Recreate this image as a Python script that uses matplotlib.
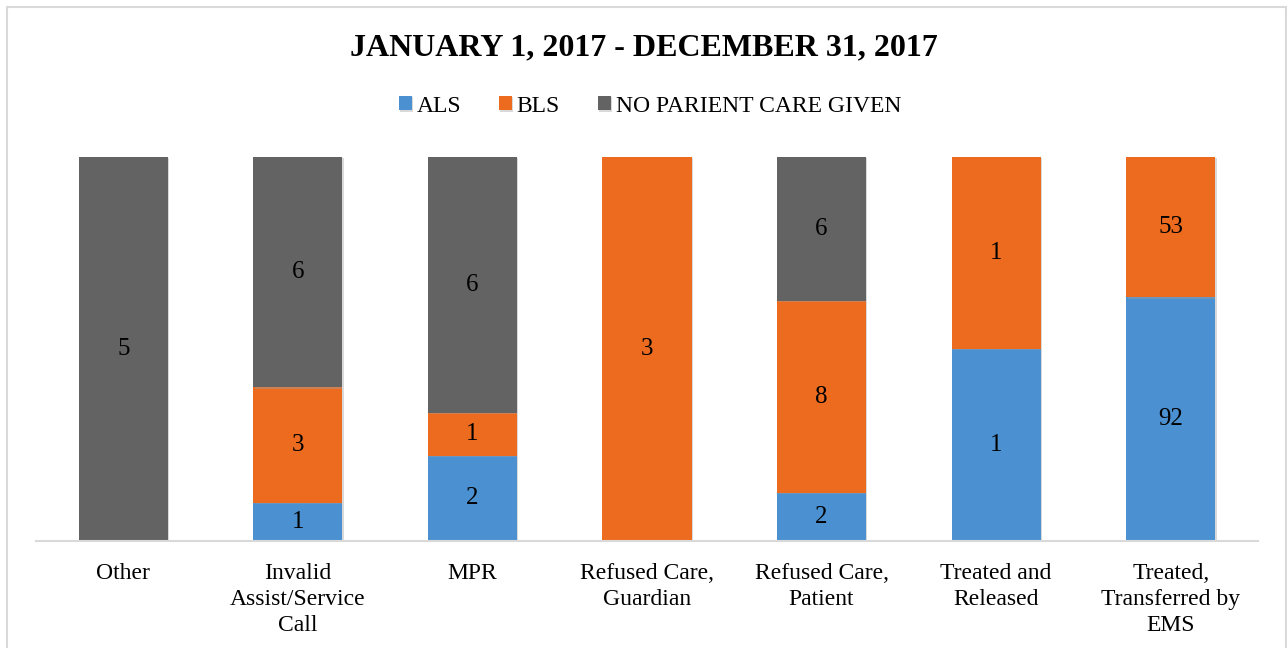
import matplotlib.pyplot as plt
import matplotlib.patheffects as pe
import numpy as np

# datos del gráfico
categorias = ['Other', 'Invalid\nAssist/Service\nCall', 'MPR', 'Refused Care,\nGuardian',
              'Refused Care,\nPatient', 'Treated and\nReleased', 'Treated,\nTransferred by\nEMS']
als = [0, 1, 2, 0, 2, 1, 92]
bls = [0, 3, 1, 3, 8, 1, 53]
sin_cuidado = [5, 6, 6, 0, 6, 0, 0]
series = [('ALS', als, '#4b91d2'), ('BLS', bls, '#ec6b1f'), ('NO PARIENT CARE GIVEN', sin_cuidado, '#636363')]

plt.rcParams['font.family'] = ['Liberation Serif', 'DejaVu Serif']

fig = plt.figure(figsize=(12.87, 6.48), dpi=100)
ax = fig.add_axes([36/1287, 1 - 541/648, 1222/1287, 384/648])

# borde del gráfico
fig.patches.append(plt.Rectangle((7/1287, -0.1), 1279/1287, 1.1 - 7/648, transform=fig.transFigure,
                                 fill=False, edgecolor='#d9d9d9', linewidth=1.5))

total = np.array(als) + np.array(bls) + np.array(sin_cuidado)
x = np.arange(len(categorias))
base = np.zeros(len(categorias))
sombra = [pe.SimplePatchShadow(offset=(1, -1), shadow_rgbFace='#a0a0a0', alpha=0.4), pe.Normal()]
for nombre, valores, color in series:
    v = np.array(valores)
    frac = v / total
    barras = ax.bar(x, frac, 0.51, bottom=base, color=color, label=nombre, zorder=2)
    for b in barras:
        b.set_path_effects(sombra)
    for i in range(len(x)):
        if v[i] > 0:
            ax.text(x[i], base[i] + frac[i] / 2, str(v[i]), ha='center', va='center', fontsize=18, zorder=3)
    base += frac

ax.set_xlim(-0.5, len(categorias) - 0.5)
ax.set_ylim(0, 1)
ax.set_yticks([])
ax.set_xticks(x)
ax.set_xticklabels(categorias, fontsize=17, linespacing=1.32, va='top')
ax.tick_params(axis='x', length=0, pad=16)
for s in ['top', 'right', 'left']:
    ax.spines[s].set_visible(False)
ax.spines['bottom'].set_color('#d9d9d9')
ax.spines['bottom'].set_linewidth(1.5)

fig.text(0.5, 1 - 48/648, 'JANUARY 1, 2017 - DECEMBER 31, 2017', ha='center', va='center',
         fontsize=23, fontweight='bold')
fig.legend(loc='center', bbox_to_anchor=(0.505, 1 - 106/648), ncol=3, frameon=False, fontsize=17,
           handlelength=0.55, handleheight=0.55, handletextpad=0.2, columnspacing=1.6)

plt.savefig('out.png', dpi=100)
